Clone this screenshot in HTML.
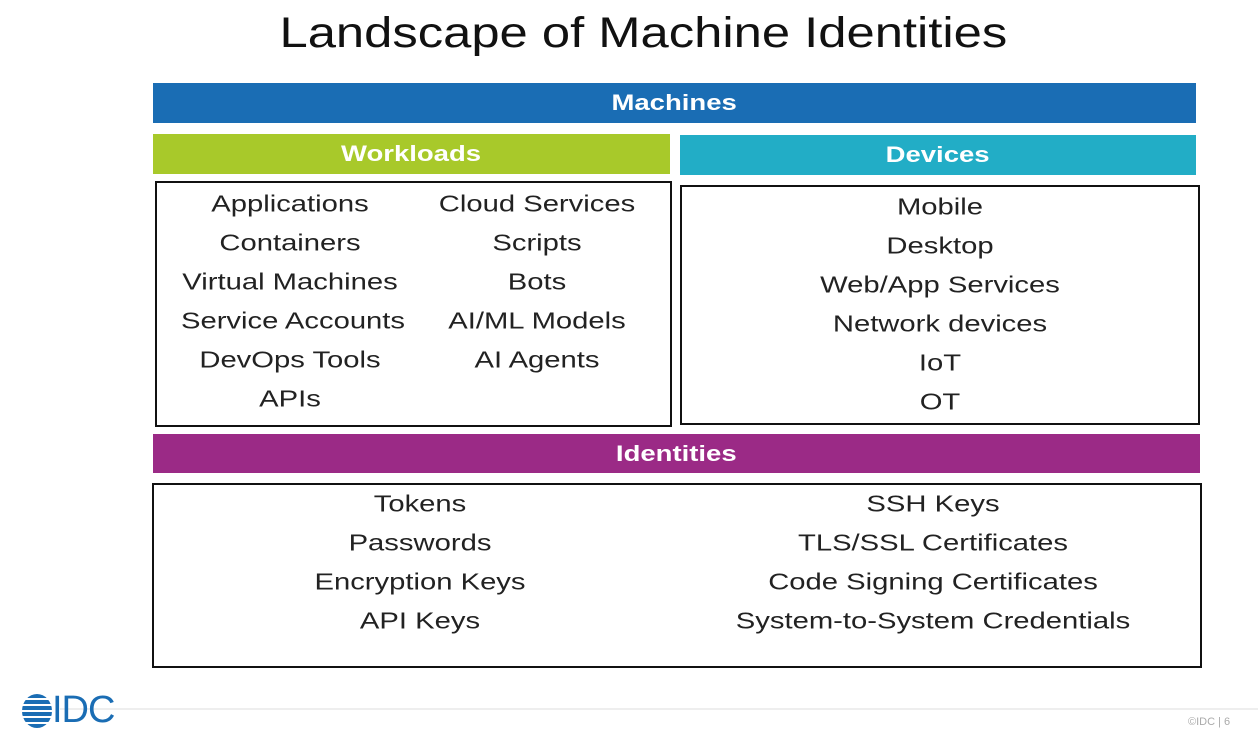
<!DOCTYPE html>
<html><head><meta charset="utf-8"><style>
body{margin:0;width:1258px;height:734px;background:#fff;position:relative;overflow:hidden;font-family:"Liberation Sans",sans-serif;}
.a{position:absolute;box-sizing:border-box}
.bar{color:#fff;font-weight:bold;font-size:22px;display:flex;align-items:center;justify-content:center}
.bar span{display:inline-block;transform:scaleX(1.25)}
.box{border:2px solid #111}
.t{position:absolute;font-size:23px;color:#222;transform:translate(-50%,-50%) scaleX(1.27);white-space:nowrap}
</style></head><body>
<div class="a" style="left:0;top:9px;width:1286px;text-align:center;font-size:43px;color:#111"><span style="display:inline-block;transform:scaleX(1.18)">Landscape of Machine Identities</span></div>
<div class="a bar" style="left:153px;top:83px;width:1043px;height:40px;background:#1a6db4"><span>Machines</span></div>
<div class="a bar" style="left:153px;top:134px;width:517px;height:40px;background:#a8c92a"><span>Workloads</span></div>
<div class="a bar" style="left:680px;top:135px;width:516px;height:40px;background:#22adc6"><span>Devices</span></div>
<div class="a box" style="left:155px;top:181px;width:517px;height:246px"></div>
<div class="a box" style="left:680px;top:185px;width:520px;height:240px"></div>
<div class="a bar" style="left:153px;top:434px;width:1047px;height:39px;background:#9b2a86"><span>Identities</span></div>
<div class="a box" style="left:152px;top:483px;width:1050px;height:185px"></div>

<div class="t" style="left:290px;top:204px">Applications</div>
<div class="t" style="left:290px;top:243px">Containers</div>
<div class="t" style="left:290px;top:282px">Virtual Machines</div>
<div class="t" style="left:293px;top:321px">Service Accounts</div>
<div class="t" style="left:290px;top:360px">DevOps Tools</div>
<div class="t" style="left:290px;top:399px">APIs</div>
<div class="t" style="left:537px;top:204px">Cloud Services</div>
<div class="t" style="left:537px;top:243px">Scripts</div>
<div class="t" style="left:537px;top:282px">Bots</div>
<div class="t" style="left:537px;top:321px">AI/ML Models</div>
<div class="t" style="left:537px;top:360px">AI Agents</div>

<div class="t" style="left:940px;top:207px">Mobile</div>
<div class="t" style="left:940px;top:246px">Desktop</div>
<div class="t" style="left:940px;top:285px">Web/App Services</div>
<div class="t" style="left:940px;top:324px">Network devices</div>
<div class="t" style="left:940px;top:363px">IoT</div>
<div class="t" style="left:940px;top:402px">OT</div>

<div class="t" style="left:420px;top:504px">Tokens</div>
<div class="t" style="left:420px;top:543px">Passwords</div>
<div class="t" style="left:420px;top:582px">Encryption Keys</div>
<div class="t" style="left:420px;top:621px">API Keys</div>
<div class="t" style="left:933px;top:504px">SSH Keys</div>
<div class="t" style="left:933px;top:543px">TLS/SSL Certificates</div>
<div class="t" style="left:933px;top:582px">Code Signing Certificates</div>
<div class="t" style="left:933px;top:621px">System-to-System Credentials</div>

<div class="a" style="left:60px;top:708px;width:1198px;height:2px;background:#eee"></div>
<div class="a" style="left:22px;top:694px;width:30px;height:34px;border-radius:50%;background:repeating-linear-gradient(#1a6db4 0 4px,#fff 4px 6px)"></div>
<div class="a" style="left:52px;top:689px;font-size:38px;color:#1a6db4;letter-spacing:-1px">IDC</div>
<div class="a" style="left:1188px;top:716px;font-size:11px;color:#aaa">©IDC | 6</div>
</body></html>
